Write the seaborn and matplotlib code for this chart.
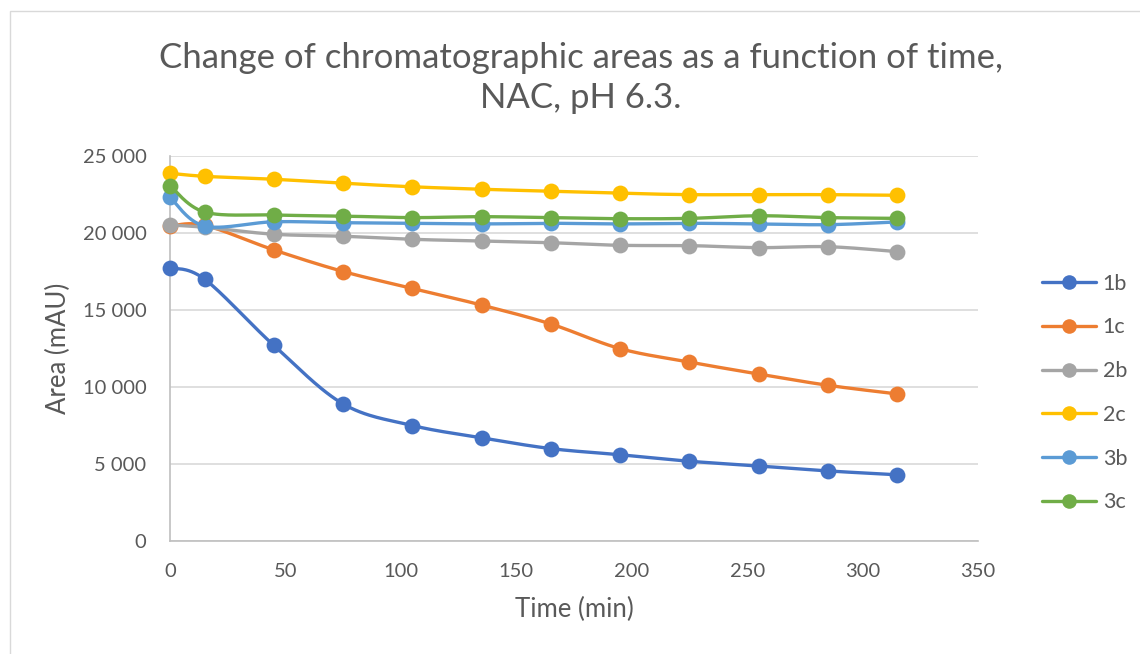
import numpy as np
import pandas as pd
import matplotlib
matplotlib.use("Agg")
import matplotlib.pyplot as plt
from matplotlib.lines import Line2D
from matplotlib.patches import Rectangle
from matplotlib.ticker import FuncFormatter, MultipleLocator
import seaborn as sns

# ---- data ----
time_min = [0, 15, 45, 75, 105, 135, 165, 195, 225, 255, 285, 315]
s_1b = [17750, 17000, 12700, 8900, 7500, 6700, 6000, 5600, 5180, 4870, 4550, 4300]
s_1c = [20450, 20500, 18900, 17500, 16400, 15320, 14090, 12490, 11620, 10840, 10110, 9550]
s_2b = [20520, 20370, 19920, 19790, 19590, 19480, 19370, 19200, 19180, 19050, 19110, 18790]
s_2c = [23880, 23680, 23490, 23230, 23000, 22840, 22710, 22580, 22490, 22490, 22490, 22450]
s_3b = [22320, 20450, 20730, 20670, 20630, 20590, 20630, 20590, 20630, 20590, 20540, 20720]
s_3c = [23070, 21360, 21170, 21100, 21000, 21060, 21000, 20930, 20950, 21120, 21000, 20950]
series_names = ["1b", "1c", "2b", "2c", "3b", "3c"]
series_values = [s_1b, s_1c, s_2b, s_2c, s_3b, s_3c]
colors = ["#4472C4", "#ED7D31", "#A5A5A5", "#FFC000", "#5B9BD5", "#70AD47"]

title_text = "Change of chromatographic areas as a function of time,\nNAC, pH 6.3."
xlabel_text = "Time (min)"
ylabel_text = "Area (mAU)"


def smooth(xs, ys, n=30):
    """Catmull-Rom (Excel-like) smoothing through the data points."""
    P = np.column_stack([xs, ys]).astype(float)
    out = []
    m = len(P)
    for i in range(m - 1):
        p0 = P[i - 1] if i > 0 else P[i]
        p1 = P[i]
        p2 = P[i + 1]
        p3 = P[i + 2] if i + 2 < m else P[i + 1]
        c1 = p1 + (p2 - p0) / 6.0
        c2 = p2 - (p3 - p1) / 6.0
        t = np.linspace(0, 1, n)[:, None]
        seg = ((1 - t) ** 3) * p1 + 3 * ((1 - t) ** 2) * t * c1 + 3 * (1 - t) * t ** 2 * c2 + t ** 3 * p2
        if i > 0:
            seg = seg[1:]
        out.append(seg)
    out = np.vstack(out)
    return out[:, 0], out[:, 1]


sns.set_theme(style="white")
plt.rcParams["font.family"] = ["Lato", "DejaVu Sans"]
text_col = "#595959"

fig = plt.figure(figsize=(11.4, 6.54), dpi=100)
ax = fig.add_axes([170 / 1140, 1 - 541 / 654, (978 - 170) / 1140, (541 - 156) / 654])

# chart border
fig.patches.append(Rectangle((10 / 1140, -0.05), 1.2, 1 - 11 / 654 + 0.05, transform=fig.transFigure,
                             fill=False, edgecolor="#D9D9D9", linewidth=1.0, zorder=0))

handles = []
for k, (name, vals, col) in enumerate(zip(series_names, series_values, colors)):
    sx, sy = smooth(time_min, vals)
    dfl = pd.DataFrame({"x": sx, "y": sy})
    sns.lineplot(data=dfl, x="x", y="y", sort=False, estimator=None, color=col,
                 linewidth=2.4, ax=ax, zorder=3 + k, solid_capstyle="round")
    dfp = pd.DataFrame({"x": time_min, "y": vals})
    sns.scatterplot(data=dfp, x="x", y="y", color=col, s=130, edgecolor=col, linewidth=0,
                    ax=ax, zorder=3.5 + k, clip_on=False)
    handles.append(Line2D([0], [0], color=col, linewidth=2.4, marker="o", markersize=10.5,
                          markeredgewidth=0, label=name))

ax.set_xlim(0, 350)
ax.set_ylim(0, 25000)
ax.xaxis.set_major_locator(MultipleLocator(50))
ax.yaxis.set_major_locator(MultipleLocator(5000))
ax.yaxis.set_major_formatter(FuncFormatter(lambda v, p: f"{int(v):,}".replace(",", " ")))
ax.grid(axis="y", color="#D9D9D9", linewidth=1.2)
ax.grid(axis="x", visible=False)
for sp in ["top", "right"]:
    ax.spines[sp].set_visible(False)
for sp in ["left", "bottom"]:
    ax.spines[sp].set_color("#BFBFBF")
    ax.spines[sp].set_linewidth(1.2)
ax.tick_params(axis="both", length=0, labelsize=14.5, labelcolor=text_col)
ax.tick_params(axis="x", pad=16)
ax.tick_params(axis="y", pad=17)
ax.set_xlabel(xlabel_text, fontsize=18.5, color=text_col, labelpad=12)
ax.set_ylabel(ylabel_text, fontsize=18.5, color=text_col, labelpad=8)

fig.text(581 / 1140, 1 - 78 / 654, title_text, ha="center", va="center", fontsize=25,
         color=text_col, linespacing=1.3)

leg = fig.legend(handles=handles, loc="center left", bbox_to_anchor=(1023 / 1140, 1 - 393 / 654),
                 frameon=False, fontsize=15.5, handlelength=2.5, handletextpad=0.3,
                 labelspacing=1.1, labelcolor=text_col)

fig.savefig("out.png", dpi=100)
